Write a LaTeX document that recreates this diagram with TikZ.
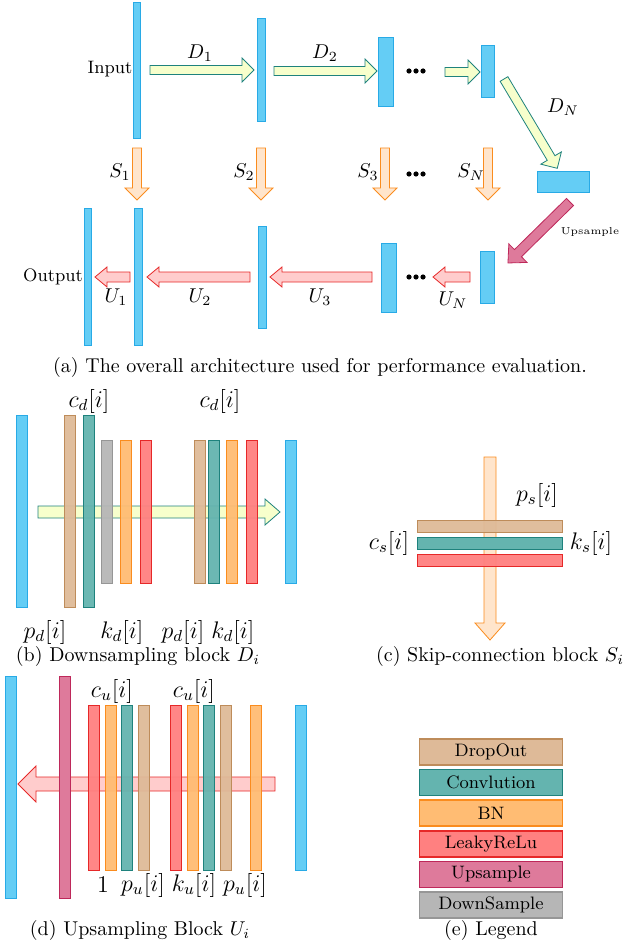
\documentclass[tikz,border=0pt]{standalone}
\usepackage{tikz}
\usetikzlibrary{positioning,calc}
\definecolor{blu}{RGB}{100,205,245}\definecolor{bluD}{RGB}{40,170,230}
\definecolor{brn}{RGB}{222,186,152}\definecolor{brnD}{RGB}{190,140,90}
\definecolor{tel}{RGB}{100,180,175}\definecolor{telD}{RGB}{30,130,125}
\definecolor{orn}{RGB}{255,188,115}\definecolor{ornD}{RGB}{250,140,30}
\definecolor{rd}{RGB}{255,128,128}\definecolor{rdD}{RGB}{230,40,40}
\definecolor{pnk}{RGB}{222,122,155}\definecolor{pnkD}{RGB}{190,40,90}
\definecolor{gry}{RGB}{182,182,182}\definecolor{gryD}{RGB}{150,150,150}
\tikzset{
  feat/.style={fill=blu,draw=bluD},
  drop/.style={fill=brn,draw=brnD},
  conv/.style={fill=tel,draw=telD},
  bn/.style={fill=orn,draw=ornD},
  relu/.style={fill=rd,draw=rdD},
  ups/.style={fill=pnk,draw=pnkD},
  dws/.style={fill=gry,draw=gryD},
  darr/.style={fill=green!15!yellow!20,draw=telD},
  sarr/.style={fill=orange!20,draw=ornD},
  uarr/.style={fill=red!20,draw=rdD},
  lgd/.style={minimum width=71.5pt,minimum height=13pt,inner sep=1pt,font=\small,line width=0.8pt}
}
% fat arrow: style, start, angle, length, shaft half, head half, head length
\newcommand\fatarrow[7]{\begin{scope}[shift={#2},rotate=-#3]
  \filldraw[#1] (0,-#5)--({#4-#7},-#5)--({#4-#7},-#6)--(#4,0)--({#4-#7},#6)--({#4-#7},#5)--(0,#5)--cycle;
\end{scope}}
\newcommand\dotz[1]{\foreach \d in {-7,0,7} \fill ($#1+(\d,0)$) circle (2.6);}
\begin{document}
\begin{tikzpicture}[x=0.5pt,y=-0.5pt]
\useasboundingbox (0,0) rectangle (640,952);
% (a) overall
\draw[feat] (133,2) rectangle (140,138);
\node[font=\small] (in) at (110,69) {Input};
\fatarrow{darr}{(150,70)}{0}{104}{4.5}{12}{12}
\node (d1) at (200,53) {$D_1$};
\draw[feat] (257,18) rectangle (265,121);
\fatarrow{darr}{(274,71)}{0}{103}{4.5}{12}{12}
\node (d2) at (325,53) {$D_2$};
\draw[feat] (378,37) rectangle (393,106);
\dotz{(416,71)}
\fatarrow{darr}{(445,72)}{0}{35}{4.5}{12}{12}
\draw[feat] (481,45) rectangle (494,97);
\fatarrow{darr}{(504,79)}{59.2}{104}{4.5}{12}{12}
\node (dn) at (563,107) {$D_N$};
\draw[feat] (537,171) rectangle (589,192);
\foreach \x/\l in {137/S_1,261/S_2,385/S_3,488/S_N}{
  \fatarrow{sarr}{(\x,148)}{90}{52}{4.5}{12}{12}
  \node at (\x-17,172) {$\l$};}
\dotz{(416,174)}
\fatarrow{ups}{(570,202)}{135.5}{87}{5}{13}{14}
\node[font=\tiny] (up) at (590,232) {Upsample};
\draw[feat] (84,208) rectangle (91,345);
\draw[feat] (134,208) rectangle (142,345);
\draw[feat] (258,226) rectangle (266,328);
\draw[feat] (381,243) rectangle (396,312);
\draw[feat] (480,251) rectangle (494,303);
\node[font=\small] (out) at (53,277) {Output};
\fatarrow{uarr}{(130,277)}{180}{35}{5}{10}{12}
\fatarrow{uarr}{(250,277)}{180}{103}{5}{10}{12}
\fatarrow{uarr}{(372,277)}{180}{102}{5}{10}{12}
\fatarrow{uarr}{(470,277)}{180}{37}{5}{10}{12}
\dotz{(416,277)}
\node at (116,297) {$U_1$};
\node at (200,297) {$U_2$};
\node at (320,297) {$U_3$};
\node at (453,300) {$U_N$};
\node (capa) at (320,367) {(a) The overall architecture used for performance evaluation.};
% (b) downsampling block
\draw[feat] (16,415) rectangle (27,607);
\fatarrow{darr}{(38,512)}{0}{242}{6}{13}{15}
\foreach \x/\s in {64/drop,83/conv}{\draw[\s,fill opacity=.95] (\x,415) rectangle ++(11,192);}
\foreach \x/\s in {101/dws,120/bn,140/relu,194/drop,208/conv,226/bn,246/relu}{\draw[\s,fill opacity=.95] (\x,440) rectangle ++(11,143);}
\draw[feat] (285,440) rectangle (296,583);
\node[font=\large] at (89,401) {$c_d[i]$};
\node[font=\large] at (220,401) {$c_d[i]$};
\node[font=\large] at (45,632) {$p_d[i]$};
\node[font=\large] at (122,632) {$k_d[i]$};
\node[font=\large] at (183,632) {$p_d[i]$};
\node[font=\large] at (233,632) {$k_d[i]$};
\node (capb) at (138,656) {(b) Downsampling block $D_i$};
% (c) skip block
\fatarrow{sarr}{(490,457)}{90}{183}{6}{15}{17}
\draw[drop,fill opacity=.95] (417,520) rectangle (562,532);
\draw[conv] (417,537) rectangle (562,549);
\draw[relu,fill opacity=.95] (417,554) rectangle (562,566);
\node[font=\large] at (537,495) {$p_s[i]$};
\node[font=\large] at (389,543) {$c_s[i]$};
\node[font=\large] at (591,543) {$k_s[i]$};
\node (capc) at (500,656) {(c) Skip-connection block $S_i$};
% (d) upsampling block
\draw[feat] (5,676) rectangle (16,898);
\fatarrow{uarr}{(275,784)}{180}{257}{7}{18}{18}
\draw[ups] (59,676) rectangle (70,898);
\foreach \x/\s in {88/relu,105/bn,121/conv,138/drop,170/relu,187/bn,203/conv,220/drop,250/bn}{\draw[\s,fill opacity=.95] (\x,705) rectangle ++(11,165);}
\draw[feat] (295,705) rectangle (306,870);
\node[font=\large] at (112,691) {$c_u[i]$};
\node[font=\large] at (194,691) {$c_u[i]$};
\node[font=\large] at (103,885) {$1$};
\node[font=\large] at (143,885) {$p_u[i]$};
\node[font=\large] at (194,885) {$k_u[i]$};
\node[font=\large] at (245,885) {$p_u[i]$};
\node (capd) at (140,930) {(d) Upsampling Block $U_i$};
% (e) legend
\node[lgd,drop] (l1) at (491,752) {DropOut};
\node[lgd,conv,below=1.5pt of l1] (l2) {Convlution};
\node[lgd,bn,below=1.5pt of l2] (l3) {BN};
\node[lgd,relu,below=1.5pt of l3] (l4) {LeakyReLu};
\node[lgd,ups,below=1.5pt of l4] (l5) {Upsample};
\node[lgd,dws,below=1.5pt of l5] (l6) {DownSample};
\node (cape) at (491,930) {(e) Legend};
\end{tikzpicture}
\end{document}
